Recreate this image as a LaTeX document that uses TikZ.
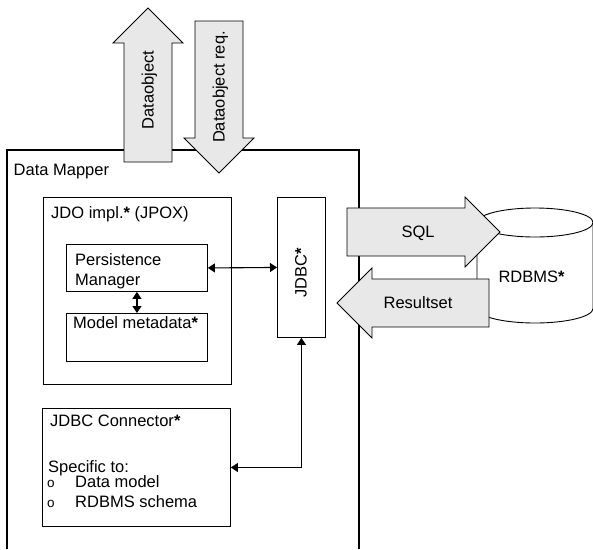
\documentclass[tikz,border=0pt]{standalone}
\usepackage{fontspec}
\setmainfont{Liberation Sans}
\usetikzlibrary{arrows.meta}
\definecolor{arrowgray}{RGB}{232,232,232}
\newcommand{\stsym}{\textbf{*}}
\newcommand{\smallbullet}{{\fontsize{13.5}{13.5}\selectfont o}}
\begin{document}
\begin{tikzpicture}[x=1pt,y=-1pt,
  every node/.style={font=\fontsize{16.5}{19}\selectfont, inner sep=0pt},
  box/.style={draw, line width=0.9pt, fill=white, anchor=north west, inner sep=0pt},
  bigarrow/.style={draw, line width=0.8pt, fill=arrowgray, line join=miter},
  link/.style={line width=1.1pt, {Triangle[length=7pt,width=9pt]}-{Triangle[length=7pt,width=9pt]}},
  lbl/.style={anchor=base west},
  vlbl/.style={anchor=base, rotate=90}
]
\useasboundingbox (0,0) rectangle (593,549);

% Data Mapper frame (open at the bottom)
\draw[line width=1.2pt] (7,549) -- (7,150) -- (359,150) -- (359,549);
\node[lbl] (dmlabel) at (13.5,175) {Data Mapper};

% RDBMS cylinder
\draw[line width=0.9pt, fill=white] (477,222.5) -- (477,308.5)
  arc[start angle=180, end angle=0, x radius=58, y radius=14.5] -- (593,222.5);
\draw[line width=0.9pt, fill=white] (535,222.5) ellipse[x radius=58, y radius=14.5];
\node[anchor=base] (rdbms) at (531.5,282) {RDBMS\stsym};

% JDO implementation box
\node[box, minimum width=188pt, minimum height=187pt] (jdo) at (43,197) {};
\node[lbl] (jdolabel) at (51,218) {JDO impl.\stsym{} (JPOX)};

\node[box, minimum width=141pt, minimum height=47pt] (pm) at (66,244) {};
\node[lbl] (pm1) at (75,265) {Persistence};
\node[lbl] (pm2) at (75,285) {Manager};

\node[box, minimum width=141pt, minimum height=48pt] (model) at (66,313) {};
\node[lbl] (modellabel) at (73,328) {Model metadata\stsym};

% JDBC box
\node[box, minimum width=48pt, minimum height=140pt] (jdbc) at (277,197) {};
\node[vlbl] (jdbclabel) at (306.5,273) {JDBC\stsym};

% JDBC Connector box
\node[box, minimum width=188pt, minimum height=118pt] (jconn) at (42,408) {};
\node[lbl] (jc1) at (50,426) {JDBC Connector\stsym};
\node[lbl] (jc2) at (48,472) {Specific to:};
\node[lbl] (jc3b) at (47,487) {\smallbullet};
\node[lbl] (jc3) at (75,487) {Data model};
\node[lbl] (jc4b) at (47,507) {\smallbullet};
\node[lbl] (jc4) at (75,507) {RDBMS schema};

% connectors
\draw[link] (pm.east) -- (jdbc.west);
\draw[link] (pm.south) -- (model.north);
\draw[link] (jdbc.south) |- (jconn.east);

% big arrows
\draw[bigarrow] (124,162) -- (124,43) -- (113,43) -- (148,8) -- (183,43) -- (172,43) -- (172,162) -- cycle;
\node[vlbl] (dobj) at (153.5,90) {Dataobject};
\draw[bigarrow] (195,21) -- (243,21) -- (243,138) -- (254,138) -- (219,173) -- (184,138) -- (195,138) -- cycle;
\node[vlbl] (dreq) at (224.5,87) {Dataobject req.};

\draw[bigarrow] (347,208) -- (465,208) -- (465,197) -- (500,232) -- (465,267) -- (465,256) -- (347,256) -- cycle;
\node[anchor=base] (sql) at (418,237.5) {SQL};
\draw[bigarrow] (489,279) -- (372,279) -- (372,268) -- (337,303) -- (372,338) -- (372,327) -- (489,327) -- cycle;
\node[anchor=base] (rs) at (418,308.5) {Resultset};
\end{tikzpicture}
\end{document}
